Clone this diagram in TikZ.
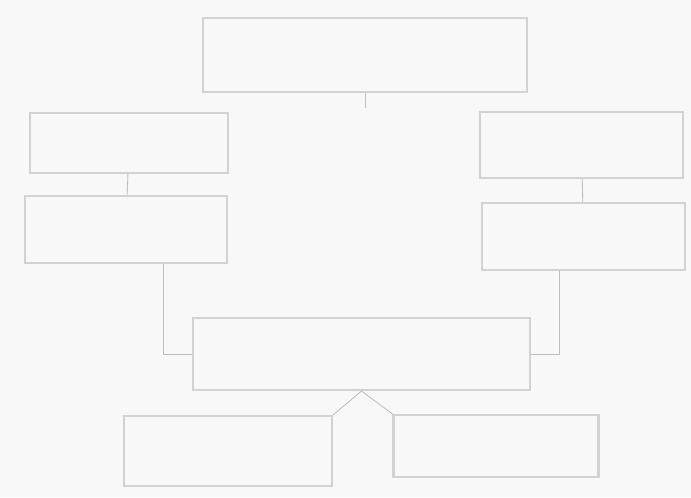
\documentclass[tikz,border=0pt]{standalone}
\usepackage{tikz}
\usetikzlibrary{calc,arrows.meta}
\definecolor{fc-paper}{HTML}{F8F8F8}
\definecolor{fc-edge}{HTML}{D2D2D2}
\definecolor{fc-line}{HTML}{BDBDBD}

\begin{document}
\begin{tikzpicture}[x=0.05cm, y=-0.05cm,
    box/.style={draw=fc-edge, line width=3pt, fill=fc-paper, inner sep=0pt},
    link/.style={draw=fc-line, line width=1.2pt}]

    % Paper and bounding box
    \fill[fc-paper] (0, 0) rectangle (691, 497);
    \useasboundingbox (0, 0) rectangle (691, 497);

    % Top box
    \node[box, minimum width=16.2cm, minimum height=3.7cm] (top) at (365, 55) {};

    % Left column
    \node[box, minimum width=9.9cm, minimum height=3.0cm] (left1) at (129, 143) {};
    \node[box, minimum width=10.1cm, minimum height=3.35cm] (left2) at (126, 229.5) {};

    % Right column
    \node[box, minimum width=10.15cm, minimum height=3.3cm] (right1) at (581.5, 145) {};
    \node[box, minimum width=10.15cm, minimum height=3.35cm] (right2) at (583.5, 236.5) {};

    % Middle box
    \node[box, minimum width=16.85cm, minimum height=3.6cm] (mid) at (361.5, 354) {};

    % Bottom boxes
    \node[box, minimum width=10.4cm, minimum height=3.5cm] (botleft) at (228, 451) {};
    \node[box, minimum width=10.25cm, minimum height=3.1cm] (botright) at (496, 446) {};

    % Connectors
    \coordinate (topstub) at (365, 108);
    \draw[link] (top.south) -- (topstub);
    \draw[link] (left1) -- (left2);
    \draw[link] (right1) -- (right2);
    \draw[link] ([xshift=1.85cm]left2.south) |- (mid.west);
    \draw[link] ([xshift=-1.18cm]right2.south) |- (mid.east);
    \draw[link] (mid.south) -- (botleft.north east);
    \draw[link] (mid.south) -- (botright.north west);
\end{tikzpicture}
\end{document}
